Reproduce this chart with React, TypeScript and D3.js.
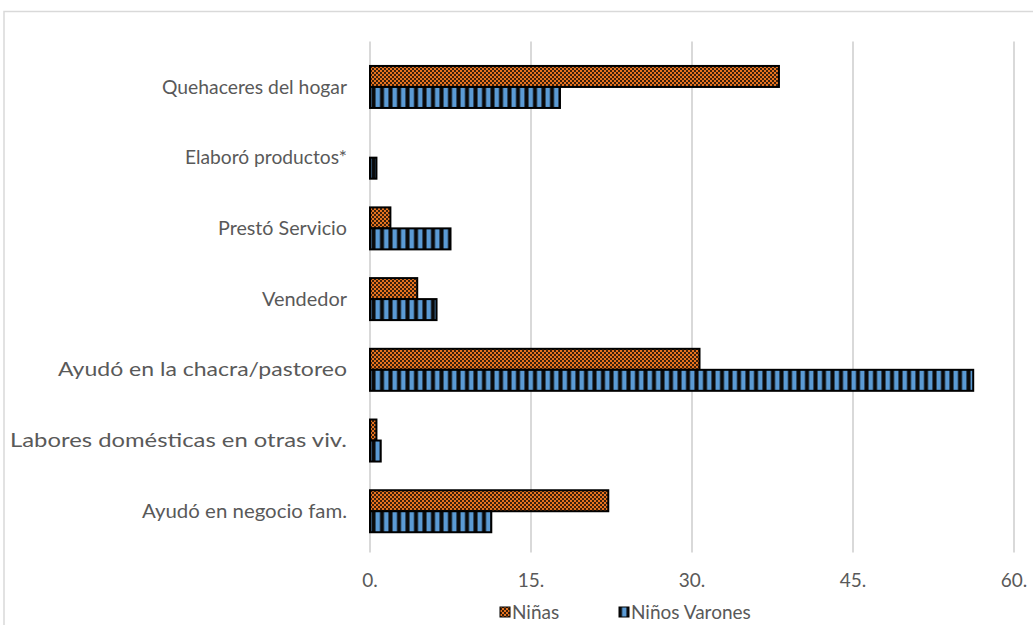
import React from 'react'
import * as d3 from 'd3'

const categories = [
  'Quehaceres del hogar',
  'Elaboró productos*',
  'Prestó Servicio',
  'Vendedor',
  'Ayudó en la chacra/pastoreo',
  'Labores domésticas en otras viv.',
  'Ayudó en negocio fam.',
]
const ninas = [38.1, 0, 1.9, 4.4, 30.7, 0.6, 22.2]
const ninos = [17.7, 0.6, 7.5, 6.2, 56.2, 1.0, 11.3]
const ticks = [0, 15, 30, 45, 60]
const seriesNames = ['Niñas', 'Niños Varones']

// label widths as drawn in the source (its font runs wider on long labels)
const labelWidths = [185, 162, 129, 85, 289, 337, 205]

export default function App() {
  const width = 1033
  const height = 625
  const marginLeft = 370
  const marginRight = 19
  const marginTop = 51.6
  const marginBottom = 78.4

  const x = d3.scaleLinear().domain([0, 60]).range([marginLeft, width - marginRight])
  const y = d3.scaleBand().domain(categories).range([marginTop, height - marginBottom]).paddingInner(0.406).paddingOuter(0.203)
  const bh = y.bandwidth() / 2

  const font = 'Lato, "Open Sans", sans-serif'
  const textColor = '#595959'

  return (
    <div style={{ position: 'absolute', left: 0, top: 0 }}>
      <svg width={width} height={height} style={{ display: 'block', background: 'white' }}>
        <defs>
          <pattern id="checker" width="4" height="4" patternUnits="userSpaceOnUse">
            <rect width="4" height="4" fill="#e8731f" />
            <rect width="2" height="2" fill="#3a200c" />
            <rect x="2" y="2" width="2" height="2" fill="#3a200c" />
          </pattern>
          <pattern id="stripes" width="8.5" height="10" patternUnits="userSpaceOnUse">
            <rect width="8.5" height="10" fill="#0a0a0a" />
            <rect x="1.5" width="4.5" height="10" fill="#5b9bd5" />
          </pattern>
        </defs>

        <rect x={4} y={11.5} width={width + 10} height={height + 10} fill="none" stroke="#d9d9d9" strokeWidth={1.5} />

        <g stroke="#d9d9d9" strokeWidth={2}>
          {ticks.map(t => (
            <line key={t} x1={x(t)} x2={x(t)} y1={marginTop - 10} y2={height - marginBottom + 6} />
          ))}
        </g>

        <g>
          {categories.map((c, i) => (
            <g key={c}>
              {ninas[i] > 0 && (
                <rect x={x(0)} y={y(c)!} width={x(ninas[i]) - x(0)} height={bh}
                  fill="url(#checker)" stroke="#000" strokeWidth={2} />
              )}
              {ninos[i] > 0 && (
                <rect x={x(0)} y={y(c)! + bh} width={x(ninos[i]) - x(0)} height={bh}
                  fill="url(#stripes)" stroke="#000" strokeWidth={2} />
              )}
            </g>
          ))}
        </g>

        <g fontFamily={font} fontSize={19} fill={textColor}>
          {categories.map((c, i) => (
            <text key={c} x={marginLeft - 23 - labelWidths[i]} y={y(c)! + bh} dy="0.35em"
              textLength={labelWidths[i]} lengthAdjust="spacingAndGlyphs">{c}</text>
          ))}
          {ticks.map(t => (
            <text key={t} x={x(t)} y={587} textAnchor="middle">{t + '.'}</text>
          ))}
        </g>

        <g fontFamily={font} fontSize={19} fill={textColor}>
          <rect x={500} y={607} width={10} height={10} fill="url(#checker)" stroke="#000" strokeWidth={1} />
          <text x={512} y={619}>{seriesNames[0]}</text>
          <rect x={619} y={607} width={10} height={10} fill="url(#stripes)" stroke="#000" strokeWidth={1} />
          <text x={631} y={619}>{seriesNames[1]}</text>
        </g>
      </svg>
    </div>
  )
}
